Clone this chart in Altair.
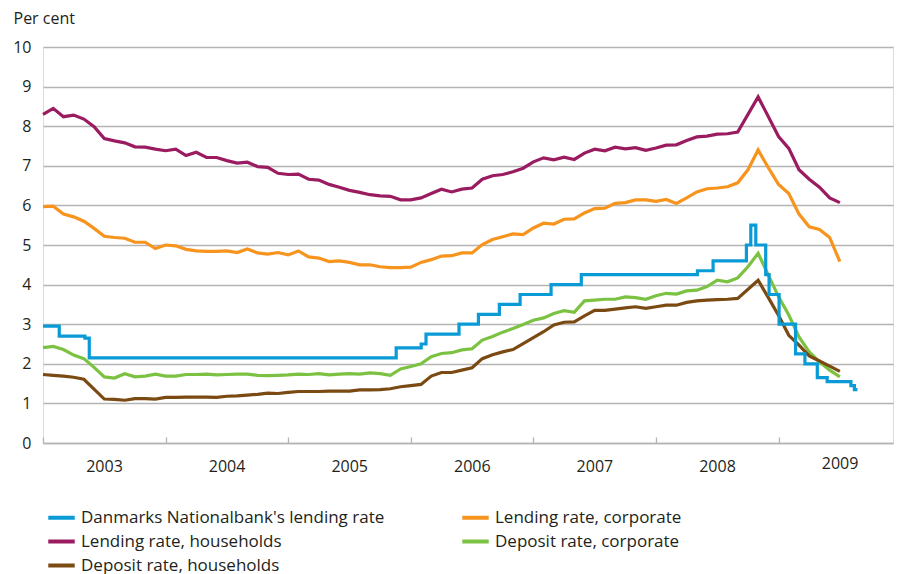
import altair as alt
import pandas as pd

# ---- data (monthly, month 0 = January 2003) ----
months = list(range(79))

lend_households = [8.30, 8.45, 8.24, 8.28, 8.18, 7.99, 7.69, 7.63, 7.58, 7.48,
                   7.47, 7.42, 7.38, 7.42, 7.26, 7.34, 7.21, 7.21, 7.13, 7.07,
                   7.09, 6.98, 6.96, 6.81, 6.78, 6.79, 6.66, 6.64, 6.53, 6.46,
                   6.38, 6.33, 6.27, 6.24, 6.23, 6.14, 6.14, 6.19, 6.30, 6.41,
                   6.34, 6.41, 6.44, 6.66, 6.75, 6.78, 6.85, 6.94, 7.10, 7.20,
                   7.15, 7.22, 7.16, 7.32, 7.42, 7.38, 7.47, 7.43, 7.46, 7.39,
                   7.45, 7.52, 7.53, 7.64, 7.73, 7.75, 7.80, 7.81, 7.85, None,
                   8.74, None, 7.74, 7.44, 6.90, 6.66, 6.46, 6.19, 6.07]

lend_corporate = [5.97, 5.98, 5.78, 5.71, 5.60, 5.42, 5.22, 5.19, 5.17, 5.07,
                  5.07, 4.91, 5.00, 4.98, 4.89, 4.85, 4.84, 4.84, 4.85, 4.81,
                  4.90, 4.80, 4.77, 4.81, 4.75, 4.85, 4.70, 4.67, 4.58, 4.60,
                  4.56, 4.50, 4.50, 4.45, 4.43, 4.43, 4.44, 4.56, 4.63, 4.72,
                  4.73, 4.80, 4.80, 5.01, 5.14, 5.21, 5.28, 5.26, 5.43, 5.55,
                  5.53, 5.65, 5.66, 5.81, 5.92, 5.93, 6.05, 6.07, 6.14, 6.14,
                  6.10, 6.15, 6.05, 6.19, 6.34, 6.42, 6.44, 6.47, 6.57, 6.90,
                  7.40, 6.95, 6.53, 6.30, 5.78, 5.46, 5.39, 5.19, 4.58]

dep_corporate = [2.41, 2.44, 2.36, 2.22, 2.13, 1.91, 1.67, 1.64, 1.75, 1.67,
                 1.69, 1.74, 1.69, 1.69, 1.73, 1.73, 1.74, 1.72, 1.73, 1.74,
                 1.74, 1.71, 1.70, 1.71, 1.72, 1.74, 1.73, 1.75, 1.72, 1.74,
                 1.75, 1.74, 1.77, 1.75, 1.71, 1.87, 1.93, 2.00, 2.18, 2.26,
                 2.28, 2.35, 2.38, 2.60, 2.69, 2.80, 2.89, 2.99, 3.10, 3.16,
                 3.27, 3.34, 3.30, 3.59, 3.61, 3.63, 3.63, 3.69, 3.67, 3.63,
                 3.72, 3.78, 3.76, 3.84, 3.86, 3.95, 4.11, 4.07, 4.17, 4.45,
                 4.79, 4.24, 3.69, 3.23, 2.68, 2.30, 2.05, 1.84, 1.67]

dep_households = [1.73, 1.71, 1.69, 1.66, 1.61, None, 1.11, 1.10, 1.08, 1.12,
                  1.12, 1.11, 1.15, 1.15, 1.16, 1.16, 1.16, 1.15, 1.18, 1.19,
                  1.21, 1.23, 1.26, 1.25, 1.28, 1.30, 1.30, 1.30, 1.31, 1.31,
                  1.31, 1.34, 1.34, 1.35, 1.37, 1.42, 1.45, 1.48, 1.69, 1.78,
                  1.78, 1.84, 1.90, 2.13, 2.23, 2.30, 2.36, 2.51, 2.66, 2.81,
                  2.98, 3.05, 3.06, 3.21, 3.35, 3.35, 3.38, 3.41, 3.44, 3.40,
                  3.44, 3.48, 3.48, 3.55, 3.59, 3.61, 3.62, 3.63, 3.65, None,
                  4.11, 3.67, 3.22, 2.72, 2.47, 2.20, 2.07, 1.94, 1.81]

# Danmarks Nationalbank's lending rate: change dates (fractional month) and new rate
dnb_month = [0.0, 1.59, 4.10, 4.53, 34.57, 37.02, 37.49, 40.72, 42.62, 44.67,
             46.70, 49.73, 52.69, 64.06, 65.59, 68.85, 69.28, 69.77, 70.74, 71.07,
             72.05, 73.66, 74.58, 75.79, 76.76, 79.08, 79.42, 79.72]
dnb_rate = [2.95, 2.70, 2.65, 2.15, 2.40, 2.50, 2.75, 3.00, 3.25, 3.50,
            3.75, 4.00, 4.25, 4.35, 4.60, 5.00, 5.50, 5.00, 4.25, 3.75,
            3.00, 2.25, 2.00, 1.65, 1.55, 1.45, 1.35, 1.35]

series_names = ["Danmarks Nationalbank's lending rate",
                "Lending rate, corporate",
                "Lending rate, households",
                "Deposit rate, corporate",
                "Deposit rate, households"]
series_colors = ["#0a9bd7", "#f7941d", "#9a1b5f", "#7cc242", "#7a4a12"]

year_ticks = [0, 12, 24, 36, 48, 60, 72]
y_ticks = list(range(11))

# ---- build tables ----
rows = []
for name, vals in [(series_names[2], lend_households),
                   (series_names[1], lend_corporate),
                   (series_names[3], dep_corporate),
                   (series_names[4], dep_households)]:
    for m, v in zip(months, vals):
        if v is not None:
            rows.append({"month": m, "rate": v, "series": name})
retail = pd.DataFrame(rows)
dnb = pd.DataFrame({"month": dnb_month, "rate": dnb_rate,
                    "series": [series_names[0]] * len(dnb_month)})

FONT = "Open Sans"
TXT = "#231f20"
GRID = "#b4b4b4"
W, H = 850, 396

xscale = alt.Scale(domain=[0, 83.2], nice=False, zero=False)
yscale = alt.Scale(domain=[0, 10], nice=False)
color = alt.Color("series:N",
                  scale=alt.Scale(domain=series_names, range=series_colors),
                  legend=alt.Legend(title=None, orient="none", legendX=3, legendY=455,
                                    direction="horizontal",
                                    columns=2, columnPadding=69, rowPadding=-6.5,
                                    symbolType="stroke", symbolSize=700,
                                    symbolStrokeWidth=4, labelOffset=4,
                                    labelFont=FONT, labelFontSize=17,
                                    labelColor=TXT, labelLimit=500))

yaxis = alt.Axis(values=y_ticks, grid=True, gridColor=GRID, gridWidth=1.3,
                 domain=False, ticks=False, tickSize=0, labelPadding=12,
                 labelFont=FONT, labelFontSize=16, labelColor=TXT,
                 title="Per cent", titleAngle=0, titleX=-30, titleY=-29,
                 titleAlign="left", titleBaseline="middle", titleFont=FONT,
                 titleFontSize=16, titleFontWeight="normal", titleColor=TXT)

xaxis_bottom = alt.Axis(values=year_ticks, labelExpr="2003 + datum.value / 12",
                        labelOffset=61, labelFlush=False, labelOverlap=False,
                        ticks=False, grid=False, domainColor=GRID, domainWidth=1.3,
                        labelFont=FONT, labelFontSize=16, labelColor=TXT,
                        labelPadding={"condition": {"test": "datum.value == 72", "value": 12},
                                      "value": 15},
                        title=None)

xaxis_ticks = alt.Axis(orient="top", offset=-H, values=year_ticks,
                       labels=False, domain=False, grid=False, ticks=True,
                       tickSize=6, tickColor=GRID, tickWidth=1.3, title=None)

retail_lines = alt.Chart(retail).mark_line(strokeWidth=3.2).encode(
    x=alt.X("month:Q", scale=xscale, axis=xaxis_bottom),
    y=alt.Y("rate:Q", scale=yscale, axis=yaxis),
    color=color,
    detail="series:N",
)

dnb_line = alt.Chart(dnb).mark_line(strokeWidth=3.2, interpolate="step-after").encode(
    x=alt.X("month:Q", scale=xscale, axis=xaxis_ticks),
    y=alt.Y("rate:Q", scale=yscale, axis=yaxis),
    color=color,
)

chart = alt.layer(retail_lines, dnb_line).resolve_axis(x="independent").properties(
    width=W, height=H,
    autosize=alt.AutoSizeParams(type="none"),
    padding={"left": 35, "top": 39, "right": 2, "bottom": 131},
).configure_view(stroke=None).configure(font=FONT)

chart.save("out.html", embed_options={"renderer": "svg", "actions": False})
